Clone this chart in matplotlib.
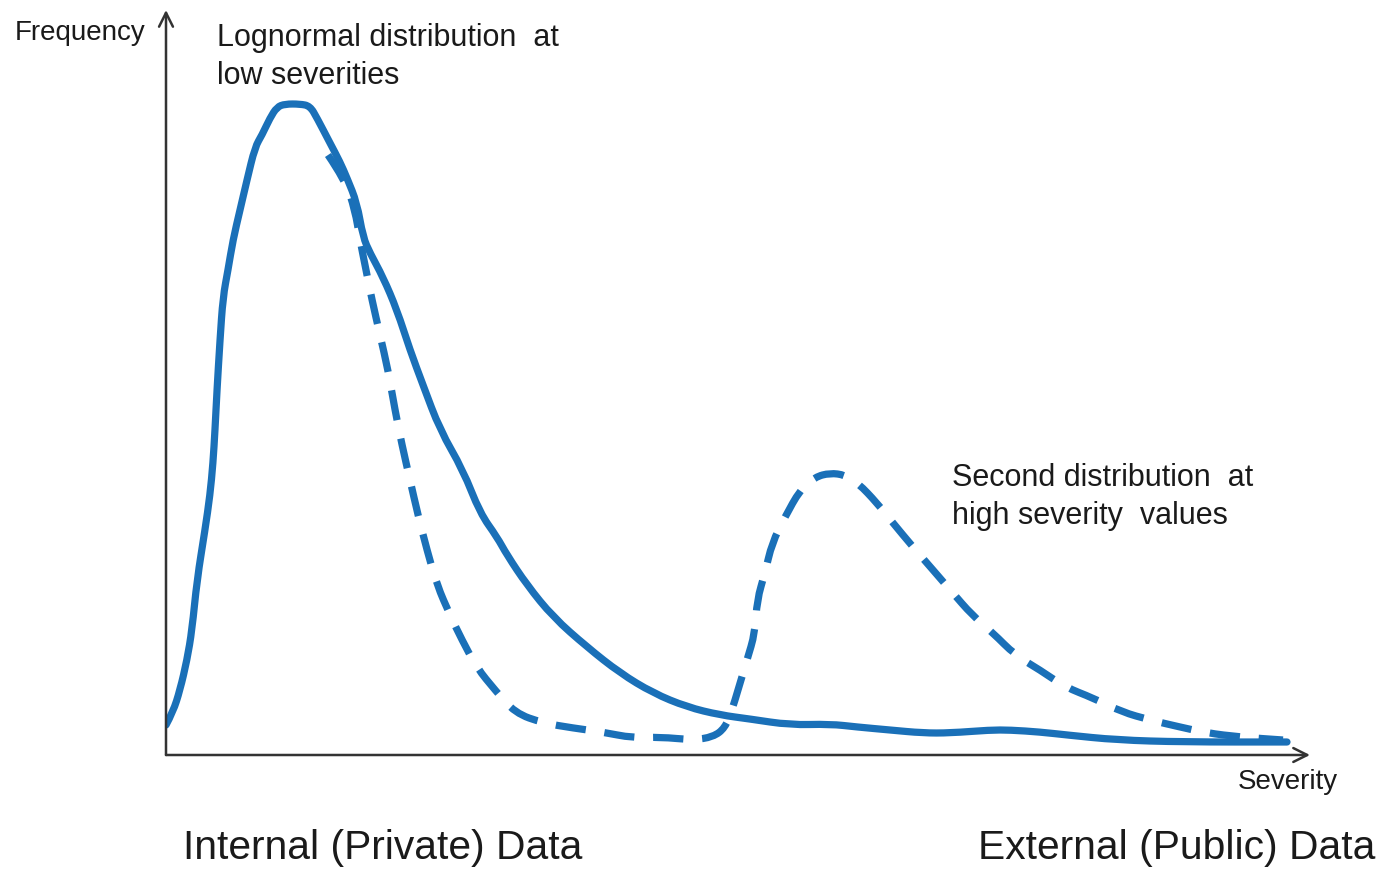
import matplotlib.pyplot as plt
from matplotlib.path import Path
from matplotlib.patches import PathPatch

# sketch of two severity distributions
# solid line: internal data, lognormal-like
sev_solid = [0, 7, 14, 21, 26, 31, 39, 44, 47, 49, 51, 54, 57, 62, 67, 74, 81, 89, 96,
             104, 111, 119, 134, 144, 151, 164, 174, 181, 191, 197, 204, 217, 231, 244,
             257, 274, 297, 314, 331, 341, 361, 387, 421, 454, 487, 521, 554, 584, 624,
             664, 691, 724, 757, 784, 824, 844, 874, 901, 951, 1017, 1121]
freq_solid = [30, 43, 65, 95, 125, 175, 225, 260, 292, 325, 365, 415, 458, 485, 515, 545,
              575, 608, 620, 637, 648, 651, 651, 649, 637, 612, 593, 577, 552, 518, 502,
              478, 445, 405, 370, 325, 285, 242, 218, 200, 170, 138, 108, 82, 62, 48, 40,
              36, 30, 31, 28, 25, 22, 22, 25, 25, 23, 20, 15, 13, 13]

# dashed line: thinner tail + second bump at high severities
sev_dash = [162, 179, 189, 194, 199, 206, 214, 222, 229, 236, 244, 252, 261, 271, 284,
            296, 311, 329, 349, 377, 407, 436, 467, 494, 527, 547, 559, 566, 572, 581,
            589, 591, 599, 606, 619, 634, 649, 664, 679, 692, 711, 727, 747, 767, 786,
            806, 827, 849, 874, 899, 927, 956, 984, 1014, 1041, 1074, 1117]
freq_dash = [600, 575, 545, 515, 490, 455, 420, 385, 345, 310, 275, 240, 205, 170, 140,
             115, 87, 65, 42, 32, 27, 23, 17, 18, 15, 18, 27, 45, 65, 95, 122, 155, 182,
             212, 238, 265, 278, 282, 280, 272, 252, 232, 208, 185, 163, 140, 122, 100,
             85, 68, 57, 43, 35, 28, 22, 18, 15]

blue = '#1a70b8'
txt = '#1a1a1a'
plt.rcParams['font.family'] = ['Liberation Sans', 'DejaVu Sans']


def smooth_path(xs, ys):
    # quadratic bezier through midpoints, the read points act as control points
    pts = list(zip(xs, ys))
    verts = [pts[0]]
    codes = [Path.MOVETO]
    for i in range(1, len(pts) - 1):
        mid = ((pts[i][0] + pts[i + 1][0]) / 2, (pts[i][1] + pts[i + 1][1]) / 2)
        verts += [pts[i], mid]
        codes += [Path.CURVE3, Path.CURVE3]
    verts.append(pts[-1])
    codes.append(Path.LINETO)
    return Path(verts, codes)


W, H = 1382, 873
fig = plt.figure(figsize=(13.82, 8.73), dpi=100)
ax = fig.add_axes([166 / W, (H - 755) / H, 1144 / W, 745 / H])
ax.set_xlim(0, 1144)
ax.set_ylim(0, 745)
ax.axis('off')

ax.add_patch(PathPatch(smooth_path(sev_solid, freq_solid), fill=False, edgecolor=blue,
                       lw=5.2, capstyle='round', joinstyle='round'))
ax.add_patch(PathPatch(smooth_path(sev_dash, freq_dash), fill=False, edgecolor=blue,
                       lw=5.2, linestyle=(0, (4.2, 2.6)), capstyle='butt'))

# axes with arrow heads
arrow = dict(arrowstyle='->', color='#333333', lw=1.8, mutation_scale=25,
             shrinkA=0, shrinkB=0)
ax.annotate('', xy=(1144, 0), xytext=(0, 0), arrowprops=arrow, annotation_clip=False)
ax.annotate('', xy=(0, 745), xytext=(0, 0), arrowprops=arrow, annotation_clip=False)

fig.text(15 / W, 1 - 33 / H, 'Frequency', fontsize=20, color=txt, va='center')
fig.text(1238 / W, 1 - 782 / H, 'Severity', fontsize=20, color=txt, va='center')
fig.text(217 / W, 1 - 38 / H, 'Lognormal distribution  at', fontsize=22, color=txt,
         va='center')
fig.text(217 / W, 1 - 76 / H, 'low severities', fontsize=22, color=txt, va='center')
fig.text(952 / W, 1 - 478 / H, 'Second distribution  at', fontsize=22, color=txt,
         va='center')
fig.text(952 / W, 1 - 516 / H, 'high severity  values', fontsize=22, color=txt,
         va='center')
fig.text(183 / W, 1 - 848 / H, 'Internal (Private) Data', fontsize=29.3, color=txt,
         va='center')
fig.text(978 / W, 1 - 848 / H, 'External (Public) Data', fontsize=29.3, color=txt,
         va='center')

fig.savefig('out.png', dpi=100, facecolor='white')
